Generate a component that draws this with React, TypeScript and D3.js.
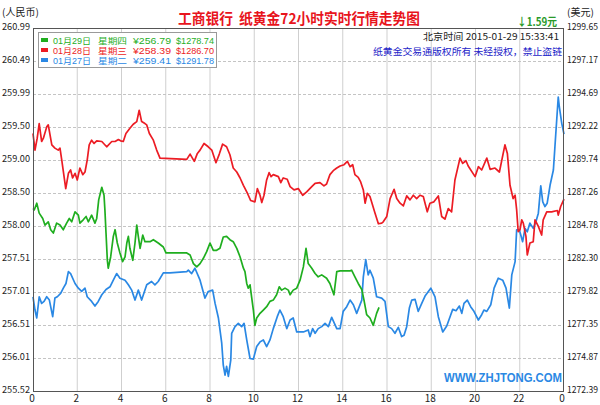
import React, { useRef, useEffect } from 'react'
import * as d3 from 'd3'

// [hour, price in CNY/g]
const day29: [number, number][] = [
  [0, 258.27], [0.06, 258.25], [0.17, 258.35], [0.28, 258.2], [0.44, 258.12], [0.54, 258.02],
  [0.69, 258.07], [0.8, 257.95], [0.92, 257.9], [1.07, 258.05], [1.22, 258.02], [1.37, 257.95],
  [1.52, 258.05], [1.64, 258.12], [1.75, 258.07], [1.9, 258.22], [2.05, 258.17], [2.12, 258.05],
  [2.27, 258.1], [2.4, 258.15], [2.5, 258.07], [2.65, 258.17], [2.8, 258.05], [2.88, 258.12],
  [2.97, 258.4], [3.11, 258.59], [3.21, 258.47], [3.25, 258.25], [3.3, 257.9], [3.36, 257.49],
  [3.4, 257.37], [3.51, 257.54], [3.63, 257.85], [3.71, 257.95], [3.81, 257.75], [3.93, 257.6],
  [4.05, 257.47], [4.16, 257.54], [4.24, 257.75], [4.31, 257.85], [4.38, 257.67], [4.51, 257.49],
  [4.61, 257.75], [4.69, 258.02], [4.76, 257.85], [4.84, 257.67], [4.96, 257.87], [5.06, 257.77],
  [5.29, 257.77], [5.44, 257.8], [5.66, 257.75], [5.89, 257.69], [6.01, 257.6], [6.95, 257.6],
  [7.1, 257.57], [7.25, 257.44], [7.4, 257.39], [7.55, 257.44], [7.7, 257.52], [7.85, 257.62],
  [8.0, 257.75], [8.15, 257.64], [8.3, 257.64], [8.45, 257.67], [8.6, 257.84], [8.75, 257.85],
  [8.9, 257.8], [9.05, 257.77], [9.21, 257.67], [9.36, 257.54], [9.51, 257.37], [9.58, 257.32],
  [9.66, 257.14], [9.73, 257.07], [9.81, 257.12], [9.88, 256.94], [9.96, 256.74], [10.03, 256.51],
  [10.11, 256.62], [10.26, 256.69], [10.41, 256.74], [10.56, 256.79], [10.71, 256.87], [10.86, 256.89],
  [11.01, 256.97], [11.13, 257.09], [11.24, 257.04], [11.39, 257.07], [11.54, 257.04], [11.62, 256.97],
  [11.76, 257.04], [11.92, 257.07], [12.07, 257.19], [12.22, 257.39], [12.34, 257.67], [12.44, 257.44],
  [12.6, 257.37], [12.75, 257.29], [12.89, 257.24], [13.05, 257.27], [13.27, 257.22], [13.42, 257.14],
  [13.6, 256.97], [13.73, 257.32], [13.88, 257.33], [14.33, 257.33], [14.4, 257.34], [14.55, 257.24],
  [14.7, 257.14], [14.86, 257.05], [14.96, 256.89], [15.08, 256.67], [15.23, 256.62], [15.38, 256.51],
  [15.53, 256.69], [15.64, 256.78],
]

const day28: [number, number][] = [
  [0, 259.4], [0.09, 259.15], [0.19, 259.33], [0.28, 259.55], [0.39, 259.28], [0.47, 259.33],
  [0.62, 259.5], [0.69, 259.53], [0.85, 259.23], [0.99, 259.18], [1.14, 259.15], [1.22, 259.18],
  [1.3, 259.0], [1.48, 258.57], [1.6, 258.8], [1.7, 258.85], [1.79, 258.73], [1.9, 258.8],
  [2.0, 258.7], [2.12, 258.88], [2.25, 258.78], [2.35, 258.82], [2.45, 259.0], [2.54, 259.23],
  [2.65, 259.3], [2.76, 259.25], [2.88, 259.29], [3.11, 259.28], [3.33, 259.2], [3.56, 259.28],
  [3.71, 259.28], [3.86, 259.31], [3.96, 259.29], [4.08, 259.28], [4.2, 259.4], [4.38, 259.48],
  [4.53, 259.54], [4.69, 259.58], [4.8, 259.75], [4.91, 259.58], [5.06, 259.55], [5.14, 259.53],
  [5.26, 259.4], [5.44, 259.3], [5.59, 259.15], [5.74, 259.03], [6.95, 259.01], [7.1, 259.09],
  [7.29, 258.98], [7.43, 259.1], [7.55, 259.15], [7.73, 259.25], [7.92, 259.2], [8.08, 259.15],
  [8.27, 258.96], [8.42, 259.09], [8.57, 259.24], [8.75, 259.2], [8.9, 259.08], [9.05, 258.88],
  [9.21, 258.82], [9.36, 258.73], [9.51, 258.62], [9.69, 258.5], [9.84, 258.39], [10.03, 258.37],
  [10.14, 258.57], [10.26, 258.47], [10.34, 258.36], [10.44, 258.47], [10.56, 258.7], [10.67, 258.81],
  [10.76, 258.75], [10.86, 258.78], [11.09, 258.75], [11.2, 258.66], [11.31, 258.73], [11.49, 258.71],
  [11.62, 258.6], [11.8, 258.55], [11.99, 258.57], [12.19, 258.47], [12.37, 258.52], [12.6, 258.6],
  [12.75, 258.65], [12.97, 258.66], [13.15, 258.61], [13.27, 258.64], [13.42, 258.78], [13.57, 258.84],
  [13.73, 258.88], [13.88, 258.91], [14.06, 258.93], [14.21, 258.98], [14.33, 258.9], [14.45, 258.93],
  [14.55, 258.78], [14.7, 258.74], [14.81, 258.67], [14.93, 258.55], [15.01, 258.35], [15.11, 258.5],
  [15.23, 258.45], [15.35, 258.32], [15.46, 258.2], [15.61, 258.04], [15.76, 258.05], [15.83, 258.07],
  [15.99, 258.15], [16.14, 258.42], [16.32, 258.56], [16.44, 258.42], [16.59, 258.35], [16.74, 258.31],
  [16.89, 258.46], [17.04, 258.4], [17.19, 258.47], [17.34, 258.42], [17.49, 258.47], [17.64, 258.45],
  [17.82, 258.22], [17.94, 258.35], [18.12, 258.37], [18.32, 258.46], [18.47, 258.15], [18.62, 258.11],
  [18.77, 258.27], [18.92, 258.22], [19.07, 258.7], [19.3, 259.03], [19.42, 258.95], [19.57, 258.99],
  [19.67, 258.91], [19.98, 258.75], [20.13, 258.9], [20.28, 258.85], [20.51, 259.03], [20.66, 258.86],
  [20.88, 258.88], [21.08, 258.82], [21.33, 259.23], [21.44, 259.1], [21.56, 258.62], [21.7, 258.42],
  [21.79, 258.47], [21.86, 258.25], [21.93, 257.92], [22.01, 257.95], [22.09, 258.1], [22.16, 258.05],
  [22.28, 257.85], [22.34, 257.57], [22.46, 257.75], [22.61, 257.77], [22.69, 258.1], [22.84, 258.0],
  [22.99, 257.87], [23.06, 258.1], [23.22, 258.22], [23.44, 258.22], [23.7, 258.24], [23.74, 258.17],
  [23.85, 258.3], [24, 258.41],
]

const day27: [number, number][] = [
  [0, 256.94], [0.09, 256.74], [0.17, 256.62], [0.28, 256.94], [0.39, 256.84], [0.5, 256.87],
  [0.62, 256.94], [0.74, 256.89], [0.89, 256.64], [0.99, 256.92], [1.1, 256.94], [1.25, 256.99],
  [1.37, 257.07], [1.49, 257.14], [1.6, 257.32], [1.7, 257.29], [1.9, 257.14], [2.05, 257.07],
  [2.2, 257.02], [2.35, 257.07], [2.45, 256.94], [2.65, 256.87], [2.8, 256.8], [2.95, 256.87],
  [3.11, 256.97], [3.3, 257.05], [3.48, 257.09], [3.63, 257.19], [3.78, 257.29], [3.93, 257.22],
  [4.16, 257.19], [4.31, 257.12], [4.46, 257.04], [4.61, 256.89], [4.76, 257.04], [4.91, 256.89],
  [5.14, 257.12], [5.36, 257.17], [5.51, 257.12], [5.66, 257.17], [5.89, 257.3], [6.19, 257.3],
  [6.95, 257.32], [7.02, 257.34], [7.17, 257.29], [7.32, 257.37], [7.55, 257.19], [7.77, 256.92],
  [7.92, 257.02], [8.12, 257.04], [8.23, 256.84], [8.38, 256.62], [8.53, 256.24], [8.6, 255.91],
  [8.68, 255.76], [8.75, 255.89], [8.83, 255.74], [8.94, 255.99], [8.98, 256.39], [9.13, 256.49],
  [9.28, 256.54], [9.43, 256.49], [9.54, 256.54], [9.66, 256.29], [9.81, 256.01], [9.96, 256.0],
  [10.11, 256.19], [10.26, 256.26], [10.41, 256.29], [10.56, 256.19], [10.71, 256.29], [10.86, 256.46],
  [11.04, 256.64], [11.16, 256.74], [11.31, 256.64], [11.47, 256.46], [11.62, 256.59], [11.76, 256.62],
  [11.92, 256.41], [12.22, 256.41], [12.44, 256.44], [12.52, 256.34], [12.64, 256.46], [12.75, 256.39],
  [12.89, 256.46], [13.05, 256.49], [13.2, 256.54], [13.35, 256.49], [13.5, 256.63], [13.73, 256.46],
  [13.88, 256.46], [14.02, 256.72], [14.18, 256.79], [14.33, 256.89], [14.48, 256.82], [14.63, 256.69],
  [14.86, 256.89], [14.93, 257.24], [15.04, 257.5], [15.15, 257.27], [15.23, 257.34], [15.38, 257.22],
  [15.53, 256.94], [15.76, 256.92], [15.91, 256.87], [16.06, 256.49], [16.21, 256.46], [16.36, 256.39],
  [16.51, 256.48], [16.66, 256.34], [16.77, 256.36], [16.89, 256.49], [17.01, 256.77], [17.12, 256.89],
  [17.27, 256.9], [17.41, 256.72], [17.57, 256.84], [17.72, 256.95], [17.87, 257.02], [17.98, 257.07],
  [18.17, 256.94], [18.32, 256.64], [18.52, 256.41], [18.7, 256.5], [18.85, 256.64], [18.97, 256.75],
  [19.12, 256.73], [19.27, 256.8], [19.38, 256.69], [19.48, 256.84], [19.63, 256.89], [19.78, 256.79],
  [19.93, 256.72], [20.13, 256.59], [20.28, 256.67], [20.38, 256.74], [20.51, 256.72], [20.69, 256.82],
  [20.84, 257.07], [21.03, 257.22], [21.23, 257.19], [21.38, 257.07], [21.53, 256.77], [21.64, 257.27],
  [21.79, 257.47], [21.86, 257.95], [21.98, 257.95], [22.13, 257.77], [22.24, 257.97], [22.34, 257.92],
  [22.46, 258.05], [22.61, 257.97], [22.73, 258.07], [22.84, 258.2], [22.95, 258.61], [23.04, 258.37],
  [23.14, 258.3], [23.24, 258.35], [23.37, 258.62], [23.52, 258.85], [23.59, 259.2], [23.74, 259.95],
  [23.79, 259.8], [23.9, 259.55], [24, 259.39],
]

const leftTicks = ['255.52', '256.01', '256.51', '257.01', '257.51', '258.00', '258.50', '259.00', '259.50', '259.99', '260.49', '260.99']
const rightTicks = ['1272.39', '1274.87', '1277.35', '1279.82', '1282.30', '1284.78', '1287.26', '1289.74', '1292.22', '1294.69', '1297.17', '1299.65']
const hourTicks = [0, 2, 4, 6, 8, 10, 12, 14, 16, 18, 20, 22, 24]
const hourLabels = ['0', '2', '4', '6', '8', '10', '12', '14', '16', '18', '20', '22', '0']

const legendRows = [
  { date: '01月29日', week: '星期四', cny: '¥256.79', usd: '$1278.74', color: '#1fae1f' },
  { date: '01月28日', week: '星期三', cny: '¥258.39', usd: '$1286.70', color: '#ec1c24' },
  { date: '01月27日', week: '星期二', cny: '¥259.41', usd: '$1291.78', color: '#2a88e4' },
]

const W = 600
const H = 405
const FONT = "'Noto Sans CJK SC', 'DejaVu Sans', sans-serif"
const LEGEND_FONT = "'Liberation Sans', 'Noto Sans CJK SC', sans-serif"

const GoldChart: React.FC = () => {
  const svgRef = useRef<SVGSVGElement>(null)

  useEffect(() => {
    const left = 33, right = 564, top = 28, bottom = 391

    const x = d3.scaleLinear().domain([0, 24]).range([left, right])
    const y = d3.scaleLinear().domain([255.52, 260.99]).range([bottom, top])
    const yR = d3.scaleLinear().domain([1272.39, 1299.65]).range([bottom, top])

    const svg = d3.select(svgRef.current!)
    svg.selectAll('*').remove()

    svg.append('rect').attr('width', W).attr('height', H).attr('fill', 'white')

    // grid
    const grid = svg.append('g')
    hourTicks.slice(1, -1).forEach((h) => {
      grid.append('line')
        .attr('x1', x(h)).attr('x2', x(h))
        .attr('y1', top).attr('y2', bottom)
        .attr('stroke', '#cfcfcf').attr('stroke-width', 1)
    })
    leftTicks.slice(1, -1).forEach((t) => {
      grid.append('line')
        .attr('x1', left).attr('x2', right)
        .attr('y1', Math.round(y(+t)) + 0.5).attr('y2', Math.round(y(+t)) + 0.5)
        .attr('stroke', '#c4c4c4').attr('stroke-dasharray', '3,2')
    })

    // price lines
    const line = d3.line<[number, number]>()
      .x((d) => x(d[0]))
      .y((d) => y(d[1]))
    const series: [[number, number][], string][] = [
      [day27, legendRows[2].color],
      [day28, legendRows[1].color],
      [day29, legendRows[0].color],
    ]
    series.forEach(([data, color]) => {
      svg.append('path')
        .datum(data)
        .attr('d', line)
        .attr('fill', 'none')
        .attr('stroke', color)
        .attr('stroke-width', 1.7)
        .attr('stroke-linejoin', 'round')
    })

    // frame
    svg.append('rect')
      .attr('x', left + 0.5).attr('y', top + 0.5)
      .attr('width', right - left - 1).attr('height', bottom - top)
      .attr('fill', 'none').attr('stroke', '#555')

    // axis labels
    const axisText = svg.append('g')
      .style('font-family', FONT).style('font-size', '9px').attr('fill', '#222')
    leftTicks.forEach((t) => {
      axisText.append('text')
        .attr('x', 2).attr('y', y(+t) + 2)
        .attr('textLength', 28).attr('lengthAdjust', 'spacingAndGlyphs')
        .text(t)
    })
    rightTicks.forEach((t) => {
      axisText.append('text')
        .attr('x', 567).attr('y', yR(+t) + 2)
        .attr('textLength', 31).attr('lengthAdjust', 'spacingAndGlyphs')
        .text(t)
    })
    hourTicks.forEach((h, i) => {
      axisText.append('text')
        .attr('x', x(h) - (i === hourTicks.length - 1 ? 2 : 1)).attr('y', 402)
        .attr('text-anchor', 'middle')
        .style('font-size', '10px')
        .text(hourLabels[i])
    })

    svg.append('text')
      .attr('x', 2).attr('y', 16)
      .style('font-family', FONT).style('font-size', '10px').attr('fill', '#222')
      .text('(人民币)')
    svg.append('text')
      .attr('x', 567).attr('y', 16)
      .style('font-family', FONT).style('font-size', '10px').attr('fill', '#222')
      .text('(美元)')

    // title
    svg.append('text')
      .attr('x', 178).attr('y', 24)
      .attr('textLength', 242).attr('lengthAdjust', 'spacingAndGlyphs')
      .style('font-family', FONT).style('font-size', '15px').style('font-weight', 'bold')
      .attr('fill', '#e8141c')
      .style('white-space', 'pre')
      .text('工商银行  纸黄金72小时实时行情走势图')

    svg.append('text')
      .attr('x', 517).attr('y', 26)
      .attr('textLength', 40).attr('lengthAdjust', 'spacingAndGlyphs')
      .style('font-family', FONT).style('font-size', '11px').style('font-weight', 'bold')
      .attr('fill', '#2a9a2a')
      .text('↓1.59元')

    svg.append('text')
      .attr('x', 423).attr('y', 40)
      .attr('textLength', 136).attr('lengthAdjust', 'spacingAndGlyphs')
      .style('font-family', FONT).style('font-size', '9.5px').attr('fill', '#222')
      .style('white-space', 'pre')
      .text('北京时间 2015-01-29 15:33:41')
    svg.append('text')
      .attr('x', 373).attr('y', 55)
      .attr('textLength', 189).attr('lengthAdjust', 'spacingAndGlyphs')
      .style('font-family', FONT).style('font-size', '9.5px').attr('fill', '#2323c8')
      .style('white-space', 'pre')
      .text('纸黄金交易通版权所有 未经授权，禁止盗链')

    // legend
    const lg = svg.append('g')
    lg.append('rect')
      .attr('x', 38.5).attr('y', 32.5).attr('width', 178).attr('height', 35)
      .attr('fill', 'white').attr('stroke', '#9a9a9a')
    legendRows.forEach((r, i) => {
      const cy = 40 + i * 10
      lg.append('rect')
        .attr('x', 41).attr('y', cy - 2).attr('width', 7).attr('height', 4)
        .attr('fill', r.color)
      const cols: [string, number, number][] = [
        [r.date, 53, 38], [r.week, 98, 29], [r.cny, 133, 38], [r.usd, 176, 38],
      ]
      cols.forEach(([s, cx, len]) => {
        lg.append('text')
          .attr('x', cx).attr('y', cy + 3.5)
          .attr('textLength', len).attr('lengthAdjust', 'spacingAndGlyphs')
          .style('font-family', LEGEND_FONT).style('font-size', '8.5px')
          .attr('fill', r.color)
          .text(s)
      })
    })

    // watermark
    svg.append('text')
      .attr('x', 444).attr('y', 382)
      .attr('textLength', 118).attr('lengthAdjust', 'spacingAndGlyphs')
      .style('font-family', "'Liberation Sans', Arial, sans-serif")
      .style('font-size', '13px').style('font-weight', 'bold')
      .attr('fill', '#2a88e4')
      .text('WWW.ZHJTONG.COM')
  }, [])

  return (
    <svg
      ref={svgRef}
      width={W}
      height={H}
      viewBox={`0 0 ${W} ${H}`}
      style={{ position: 'absolute', left: 0, top: 0, display: 'block' }}
    />
  )
}

export default function App() {
  return <GoldChart />
}
